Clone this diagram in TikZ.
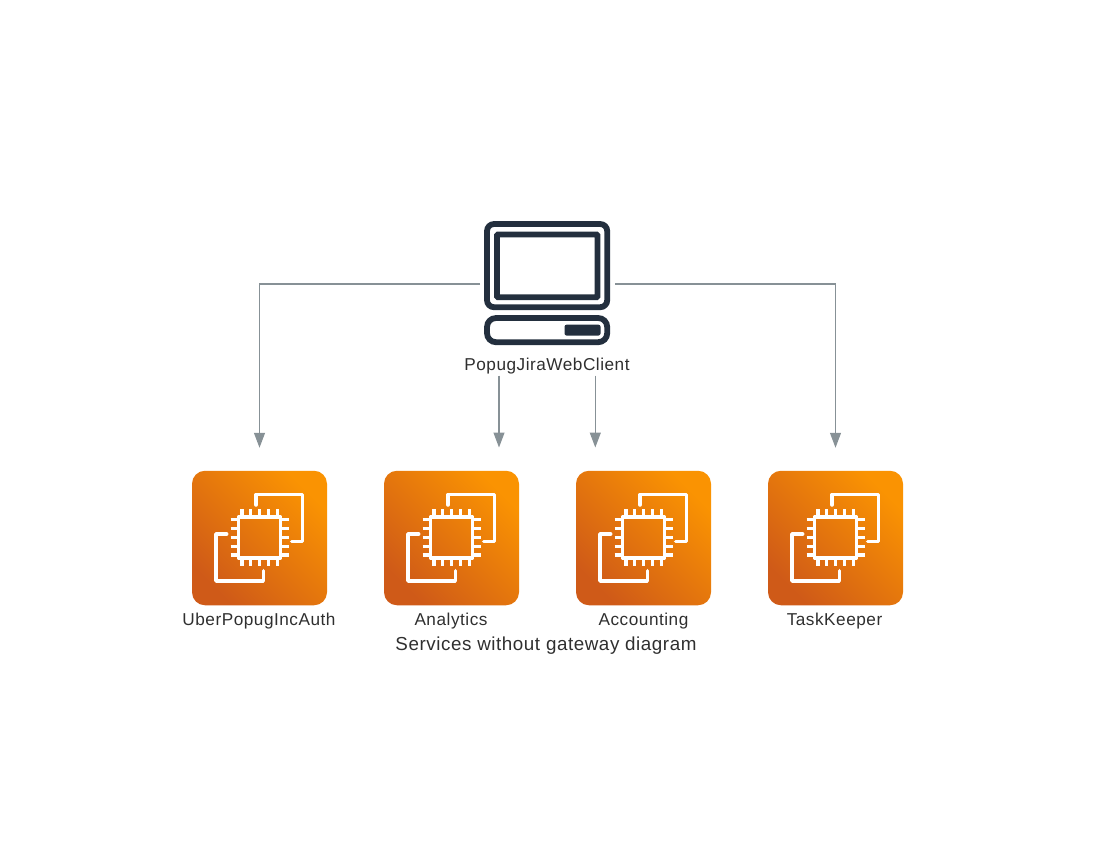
\documentclass[tikz,border=0pt]{standalone}
\usepackage{fontspec}
\setmainfont{Liberation Sans}
\newfontfamily\spacedfont[LetterSpace=3]{Liberation Sans}
\usetikzlibrary{arrows.meta}
\definecolor{ink}{HTML}{232F3E}
\definecolor{wire}{HTML}{879196}
\definecolor{txt}{HTML}{2F2F2F}
\definecolor{orangeA}{HTML}{CF5A18}
\definecolor{orangeB}{HTML}{FA9302}
\tikzset{
  wirestyle/.style={draw=wire,line width=1.2pt,-{Triangle[length=15pt,width=11pt,fill=wire]},shorten >=0pt},
  iconbox/.style={minimum width=135pt,minimum height=134.5pt,inner sep=0pt,outer sep=0pt,rounded corners=13pt,
     left color=orangeB,right color=orangeA,middle color=orangeA!50!orangeB,shading angle=-45},
  hostbox/.style={minimum width=135pt,minimum height=125pt,inner sep=0pt,outer sep=0pt},
  lbl/.style={font=\spacedfont\fontsize{17.2}{18}\selectfont,text=txt,inner sep=0pt,anchor=base},
  captionstyle/.style={font=\spacedfont\fontsize{18.8}{20}\selectfont,text=txt,inner sep=0pt,anchor=base},
  chipline/.style={draw=white,line width=3.5pt,line join=round,line cap=round},
  pinline/.style={draw=white,line width=3.2pt},
  inkline/.style={draw=ink,line width=5.8pt},
  serviceglyph/.pic={
    \draw[chipline] (-3.5,-33) -- (-3.5,-43.5) -- (43.2,-43.5) -- (43.2,3.7) -- (32.2,3.7);
    \draw[chipline] (-43.5+10.7,-4) -- (-43.5,-4) -- (-43.5,43) -- (3.8,43) -- (3.8,32.7);
    \draw[chipline] (-21,-21) rectangle (21,20);
    \foreach \p in {-17.6,-8.8,0,8.8,17.6}{
      \draw[pinline] (\p,-29) -- (\p,-21);
      \draw[pinline] (\p,20) -- (\p,27.5);
      \draw[pinline] (-29,\p-0.6) -- (-21,\p-0.6);
      \draw[pinline] (21,\p-0.6) -- (29,\p-0.6);
    }
  }
}
\begin{document}
\begin{tikzpicture}[x=1pt,y=-1pt]
\useasboundingbox (0,0) rectangle (1095,855);
% client
\node[hostbox] (client) at (547.5,284) {};
\draw[inkline,rounded corners=7pt] (487,224) rectangle (607.2,307.2);
\draw[inkline,rounded corners=1pt] (497,234.4) rectangle (597.5,297.3);
\draw[inkline,rounded corners=9pt] (487,318) rectangle (607.2,342.2);
\fill[ink,rounded corners=2pt] (564.5,324.7) rectangle (600.5,335.5);
\node[lbl] (clientlabel) at (547,370) {PopugJiraWebClient};
% services
\node[iconbox] (auth) at (259.5,538) {};
\node[iconbox] (analytics) at (451.5,538) {};
\node[iconbox] (accounting) at (643.5,538) {};
\node[iconbox] (keeper) at (835.5,538) {};
\foreach \n in {auth,analytics,accounting,keeper}{ \pic at (\n) {serviceglyph}; }
\node[lbl] (authlabel) at (259,625) {UberPopugIncAuth};
\node[lbl] (analyticslabel) at (451,625) {Analytics};
\node[lbl] (accountinglabel) at (643.5,625) {Accounting};
\node[lbl] (keeperlabel) at (834.5,625) {TaskKeeper};
\node[captionstyle] (caption) at (546,650.5) {Services without gateway diagram};
% connectors
\coordinate (anastart) at (499,375.5);
\coordinate (anaend) at (499,447.5);
\coordinate (accstart) at (595.3,375.5);
\coordinate (accend) at (595.3,447.5);
\draw[wirestyle,shorten >=23pt] (client.west) -| (auth.north);
\draw[wirestyle,shorten >=23pt] (client.east) -| (keeper.north);
\draw[wirestyle] (anastart) -- (anaend);
\draw[wirestyle] (accstart) -- (accend);
\end{tikzpicture}
\end{document}
